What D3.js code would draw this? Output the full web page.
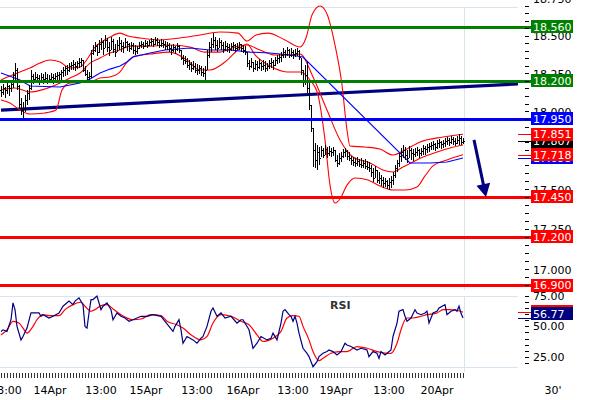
<!DOCTYPE html>
<html><head><meta charset="utf-8">
<script src="https://cdn.jsdelivr.net/npm/d3@7"></script>
<style>
body{margin:0;background:#fff}
svg{display:block}
text{font-family:"DejaVu Sans",Verdana,sans-serif;font-size:11px}
</style></head>
<body><svg id="c" width="590" height="400"></svg>
<script>
// ---- OHLC bars (30 minute bars, index 0..231) ----
const highs = [
18.165,18.179,18.159,18.185,18.172,18.205,18.258,18.317,18.284,18.172,
18.087,18.061,18.106,18.139,18.172,18.271,18.244,18.258,18.244,18.238,
18.251,18.244,18.258,18.244,18.238,18.251,18.244,18.251,18.258,18.258,
18.271,18.291,18.297,18.304,18.317,18.324,18.337,18.324,18.331,18.351,
18.351,18.337,18.297,18.271,18.258,18.404,18.437,18.457,18.444,18.471,
18.484,18.471,18.504,18.484,18.457,18.491,18.477,18.444,18.471,18.491,
18.471,18.457,18.484,18.464,18.451,18.457,18.451,18.437,18.430,18.457,
18.464,18.457,18.471,18.464,18.471,18.484,18.477,18.491,18.484,18.471,
18.477,18.471,18.464,18.457,18.451,18.437,18.444,18.430,18.451,18.437,
18.404,18.371,18.364,18.351,18.337,18.324,18.331,18.317,18.311,18.304,
18.297,18.284,18.297,18.404,18.457,18.484,18.517,18.491,18.471,18.484,
18.471,18.457,18.464,18.451,18.444,18.451,18.457,18.444,18.451,18.457,
18.444,18.437,18.430,18.390,18.337,18.351,18.324,18.337,18.331,18.344,
18.324,18.337,18.331,18.317,18.337,18.351,18.337,18.357,18.371,18.377,
18.390,18.417,18.404,18.424,18.410,18.417,18.404,18.410,18.417,18.404,
18.351,18.271,18.304,18.324,18.185,18.041,17.891,17.794,17.781,17.768,
17.775,17.762,17.781,17.768,17.775,17.762,17.768,17.749,17.717,17.730,
17.736,17.755,17.762,17.749,17.736,17.711,17.704,17.698,17.704,17.691,
17.698,17.685,17.691,17.679,17.672,17.653,17.634,17.647,17.621,17.608,
17.589,17.576,17.570,17.557,17.570,17.583,17.608,17.653,17.685,17.730,
17.762,17.781,17.768,17.749,17.775,17.762,17.755,17.762,17.768,17.755,
17.762,17.781,17.775,17.788,17.794,17.801,17.807,17.794,17.814,17.820,
17.807,17.814,17.826,17.833,17.826,17.839,17.833,17.826,17.839,17.852,
17.839,17.826];
const lows = [
18.093,18.106,18.087,18.113,18.100,18.126,18.152,18.205,18.139,18.021,
17.976,17.950,17.995,18.041,18.074,18.139,18.179,18.192,18.185,18.172,
18.185,18.179,18.192,18.179,18.185,18.192,18.179,18.192,18.198,18.205,
18.205,18.225,18.231,18.238,18.258,18.271,18.271,18.264,18.277,18.284,
18.291,18.258,18.231,18.205,18.192,18.218,18.371,18.390,18.364,18.384,
18.404,18.371,18.417,18.390,18.364,18.404,18.384,18.357,18.390,18.404,
18.390,18.384,18.417,18.397,18.390,18.404,18.377,18.371,18.377,18.410,
18.417,18.410,18.424,18.417,18.430,18.430,18.424,18.437,18.430,18.417,
18.424,18.417,18.404,18.404,18.390,18.371,18.390,18.377,18.397,18.384,
18.337,18.304,18.311,18.284,18.271,18.258,18.271,18.251,18.238,18.244,
18.231,18.225,18.205,18.271,18.351,18.390,18.417,18.404,18.390,18.417,
18.404,18.384,18.397,18.390,18.384,18.397,18.404,18.390,18.404,18.404,
18.390,18.384,18.371,18.291,18.271,18.284,18.258,18.271,18.264,18.277,
18.264,18.271,18.258,18.264,18.277,18.284,18.271,18.297,18.311,18.317,
18.324,18.351,18.351,18.364,18.351,18.357,18.344,18.357,18.364,18.337,
18.238,18.159,18.172,18.119,18.008,17.865,17.640,17.634,17.621,17.653,
17.704,17.698,17.717,17.698,17.711,17.704,17.711,17.672,17.640,17.653,
17.672,17.698,17.704,17.685,17.679,17.653,17.647,17.640,17.647,17.640,
17.634,17.634,17.627,17.621,17.608,17.576,17.544,17.570,17.538,17.532,
17.519,17.506,17.513,17.500,17.494,17.506,17.525,17.570,17.608,17.640,
17.672,17.698,17.685,17.666,17.698,17.685,17.679,17.704,17.711,17.698,
17.711,17.717,17.717,17.730,17.736,17.749,17.749,17.743,17.755,17.762,
17.755,17.762,17.768,17.781,17.775,17.788,17.781,17.775,17.788,17.781,
17.781,17.788];
const closes = [
18.126,18.152,18.139,18.165,18.152,18.179,18.238,18.271,18.165,18.048,
18.008,18.021,18.074,18.119,18.152,18.231,18.211,18.225,18.218,18.205,
18.225,18.211,18.218,18.205,18.211,18.225,18.218,18.231,18.238,18.244,
18.258,18.271,18.284,18.271,18.297,18.304,18.311,18.297,18.317,18.324,
18.337,18.271,18.244,18.225,18.231,18.384,18.404,18.430,18.390,18.444,
18.457,18.417,18.471,18.424,18.404,18.464,18.410,18.390,18.437,18.451,
18.430,18.424,18.457,18.444,18.417,18.437,18.404,18.397,18.417,18.437,
18.444,18.430,18.451,18.437,18.457,18.464,18.444,18.471,18.457,18.437,
18.451,18.444,18.430,18.437,18.417,18.404,18.424,18.410,18.430,18.404,
18.351,18.337,18.331,18.304,18.311,18.284,18.297,18.271,18.271,18.284,
18.258,18.251,18.271,18.371,18.424,18.444,18.471,18.437,18.417,18.457,
18.437,18.410,18.430,18.424,18.410,18.430,18.437,18.417,18.424,18.444,
18.417,18.404,18.390,18.317,18.297,18.324,18.284,18.311,18.291,18.317,
18.297,18.304,18.284,18.297,18.317,18.324,18.304,18.337,18.351,18.357,
18.371,18.390,18.377,18.404,18.371,18.390,18.377,18.384,18.397,18.357,
18.271,18.205,18.238,18.152,18.041,17.891,17.749,17.685,17.736,17.698,
17.749,17.717,17.755,17.730,17.743,17.736,17.749,17.685,17.666,17.698,
17.711,17.736,17.743,17.711,17.698,17.685,17.672,17.666,17.679,17.659,
17.653,17.666,17.647,17.640,17.634,17.608,17.570,17.621,17.557,17.570,
17.557,17.538,17.551,17.525,17.544,17.557,17.589,17.634,17.666,17.711,
17.736,17.749,17.717,17.698,17.749,17.730,17.723,17.736,17.749,17.730,
17.743,17.762,17.755,17.768,17.775,17.781,17.788,17.768,17.794,17.801,
17.788,17.794,17.807,17.814,17.801,17.820,17.807,17.794,17.814,17.826,
17.801,17.807];
const firstOpen = 18.139;

// ---- Bollinger bands (knots: bar index, price) ----
const upperIdx = [0,4.5,9.5,14.5,19.5,24.5,29.5,34.5,39.5,43.5,47,49.5,54.5,59.5,63.5,69.5,79.5,89.5,99.5,109.5,118.5,123,127.5,133.5,142,149.5,152.5,155.5,159.5,163,167,170.5,173,174.5,182,189.5,196,202,209.5,221,231];
const upperVal = [18.205,18.231,18.258,18.284,18.317,18.337,18.324,18.284,18.291,18.351,18.424,18.451,18.491,18.517,18.497,18.484,18.471,18.484,18.504,18.524,18.517,18.464,18.504,18.517,18.471,18.424,18.484,18.639,18.700,18.646,18.437,18.172,17.878,17.775,17.768,17.755,17.717,17.749,17.801,17.833,17.851];
const midIdx = [0,7,14.5,22,29.5,34.5,39.5,44.5,49.5,54.5,59.5,64.5,74.5,84.5,94.5,102,109.5,117,123,129.5,137,144.5,149.5,156,163,169.5,176,184.5,191,196,201,206,211,218,224.5,231];
const midVal = [18.139,18.152,18.126,18.146,18.185,18.218,18.251,18.317,18.351,18.384,18.404,18.430,18.430,18.437,18.424,18.390,18.390,18.424,18.437,18.404,18.371,18.371,18.377,18.225,18.008,17.814,17.704,17.666,17.621,17.608,17.640,17.672,17.704,17.736,17.762,17.781];
const lowIdx = [0,4.5,9.5,14.5,22,27.5,30.5,34.5,44.5,49.5,54.5,59.5,63,67,74.5,84.5,93,99.5,104.5,112,119.5,123,127,134.5,143,149.5,154.5,158.5,162,164.5,167,169.5,173,177,183.5,189.5,196,202,208,212,216,223,231];
const lowVal = [18.074,18.054,18.008,17.982,17.989,18.008,18.139,18.185,18.192,18.218,18.225,18.258,18.324,18.364,18.377,18.390,18.337,18.271,18.271,18.324,18.417,18.444,18.371,18.297,18.258,18.258,18.205,18.106,17.814,17.525,17.412,17.437,17.525,17.570,17.557,17.519,17.494,17.494,17.513,17.583,17.647,17.685,17.718];
// ---- blue moving average ----
const maIdx = [0,9.5,14.5,29.5,39.5,44.5,49.5,54.5,59.5,63,66,74.5,82,94.5,104.5,114.5,124.5,134.5,144.5,151,204.5,214.5,223,231];
const maVal = [18.251,18.205,18.165,18.159,18.185,18.211,18.251,18.277,18.297,18.324,18.357,18.384,18.404,18.417,18.404,18.404,18.390,18.384,18.371,18.357,17.666,17.666,17.672,17.698];

// ---- RSI ----
const rsiIdx = [0,1,3,5,6,7,8,10,11,13,15,16,19,20,21,24,26,29,31,34,36,37,39,41,42,43,44,45,46,48,50,51,53,55,56,58,60,62,64,66,70,73,76,80,82,84,86,87,89,90,91,93,96,98,100,101,103,105,106,108,110,112,115,118,120,121,124,126,128,130,133,135,136,138,140,141,142,144,145,146,147,148,149,151,153,154,156,158,159,161,163,164,166,168,170,172,173,175,178,180,183,184,186,188,189,190,192,193,195,196,198,199,201,202,203,205,207,208,210,212,213,214,216,218,219,222,223,225,227,228,229,230,231];
const rsiVal = [45.8,47.1,45.8,55.3,69.0,63.5,49.9,38.9,41.7,48.5,60.8,60.8,60.8,58.1,59.4,56.7,58.1,60.8,66.3,70.4,67.6,70.4,73.1,67.6,49.9,48.5,60.8,71.7,71.7,74.5,63.5,66.3,69.0,63.5,55.3,60.8,58.1,56.7,54.0,55.3,58.1,58.1,59.4,58.1,54.0,49.9,45.8,49.9,55.3,47.1,36.2,41.7,38.9,36.2,40.3,41.7,49.9,62.2,64.9,58.1,60.8,56.7,58.1,52.6,55.3,55.3,47.1,32.1,36.2,41.7,38.9,40.3,44.4,38.9,52.6,62.2,63.5,59.4,58.1,54.0,58.1,52.6,44.4,32.1,28.0,25.3,17.1,21.2,25.3,28.0,29.4,30.7,29.4,26.6,29.4,36.2,34.8,33.5,30.7,32.1,30.7,25.3,29.4,28.0,23.9,29.4,26.6,28.0,30.7,41.7,52.6,62.2,63.5,58.1,54.0,56.7,63.5,60.8,59.4,60.8,62.2,52.6,60.8,62.2,64.9,67.6,59.4,62.2,63.5,62.2,66.3,60.5,56.77];
const sigIdx = [0,3,6,9,11,13,16,18,21,24,29,32,36,40,42,45,47,50,53,56,60,63,66,70,75,80,83,88,91,95,100,103,106,110,115,120,124,128,131,136,140,143,146,149,151,154,156,159,161,165,169,173,178,183,188,193,195,198,200,202,203,206,210,213,218,221,224,228,231];
const sigVal = [43.0,47.1,54.0,52.6,48.5,44.4,49.9,55.3,59.4,58.6,58.6,63.5,67.6,69.5,66.3,62.2,63.5,66.8,67.6,64.1,59.4,56.7,55.3,55.9,59.4,58.6,54.0,51.2,48.5,43.0,38.9,41.7,52.6,59.4,58.1,54.0,51.2,43.0,37.6,40.3,45.8,56.7,58.6,58.1,49.9,38.9,29.4,22.0,23.9,28.0,29.4,29.4,33.5,32.1,29.4,28.0,28.0,36.2,47.1,55.3,56.7,56.7,58.1,59.4,60.8,63.5,63.5,63.0,61.4];

// ---- levels, trendline, annotation ----
const levelVals = [18.560, 18.200, 17.950, 17.450, 17.200, 16.900];
const levelColors = ["#008000","#008000","#0000ff","#ff0000","#ff0000","#ff0000"];
const trendIdx = [0, 258.5];
const trendVal = [18.008, 18.179];
const arrowIdx = [236.5, 242.5];
const arrowVal = [17.814, 17.450];

// ---- axes ----
const priceLabels = [18.75, 18.5, 18.25, 18.0, 17.75, 17.5, 17.25, 17.0];
const rsiLabels = [75, 50, 25];
const timeLabels = ["13:00","14Apr","13:00","15Apr","13:00","16Apr","13:00","19Apr","13:00","20Apr"];
const timeLabelIdx = [2.5, 24.5, 50, 72.5, 98, 121, 146, 167.5, 194, 218];

const svg = d3.select("#c");
const x = d3.scaleLinear().domain([0, 258.5]).range([1, 518]);
const y = d3.scaleLog().domain([18.56, 16.9]).range([26.7, 285.3]);
const yr = d3.scaleLinear().domain([75, 25]).range([295.5, 357]);
const grid = "#d9e5ee";

const defs = svg.append("defs");
defs.append("clipPath").attr("id","cm").append("rect").attr("x",0).attr("y",0).attr("width",518).attr("height",292);
defs.append("clipPath").attr("id","cr").append("rect").attr("x",0).attr("y",294).attr("width",518).attr("height",76);

// grid lines
const g0 = svg.append("g").attr("stroke", grid).attr("shape-rendering","crispEdges");
g0.append("line").attr("x1",0).attr("x2",518).attr("y1",7.5).attr("y2",7.5);
g0.append("line").attr("x1",0).attr("x2",518).attr("y1",296.5).attr("y2",296.5);
g0.append("line").attr("x1",0).attr("x2",518).attr("y1",367.5).attr("y2",367.5);
g0.append("line").attr("x1",x(231.5)+0.5).attr("x2",x(231.5)+0.5).attr("y1",7).attr("y2",290);
g0.append("line").attr("x1",x(231.5)+0.5).attr("x2",x(231.5)+0.5).attr("y1",296).attr("y2",372);

const main = svg.append("g").attr("clip-path","url(#cm)");

// trendline
main.append("line")
  .attr("x1", x(trendIdx[0])).attr("y1", y(trendVal[0]))
  .attr("x2", x(trendIdx[1])).attr("y2", y(trendVal[1]))
  .attr("stroke","#000080").attr("stroke-width",3.2);

// horizontal levels
levelVals.forEach((v,k)=>{
  const yy = Math.round(y(v));
  svg.append("line").attr("x1",0).attr("x2",531).attr("y1",yy).attr("y2",yy)
    .attr("stroke",levelColors[k]).attr("stroke-width",3).attr("shape-rendering","crispEdges");
});

// bands
const pts = (idx, val) => idx.map((d,k)=>[d, val[k]]);
const bandLine = d3.line().x(d=>x(d[0])).y(d=>y(d[1])).curve(d3.curveMonotoneX);
[[upperIdx,upperVal],[midIdx,midVal],[lowIdx,lowVal]].forEach(([a,b])=>{
  main.append("path").attr("d", bandLine(pts(a,b))).attr("fill","none").attr("stroke","#ff0000").attr("stroke-width",1.1);
});
// moving average
const maLine = d3.line().x(d=>x(d[0])).y(d=>y(d[1]));
main.append("path").attr("d", maLine(pts(maIdx,maVal))).attr("fill","none").attr("stroke","#0000ff").attr("stroke-width",1.1);

// OHLC bars
let dPath = "";
closes.forEach((c,i)=>{
  const o = i===0 ? firstOpen : closes[i-1];
  const X = Math.round(x(i));
  const yh = Math.round(y(highs[i])), yl = Math.max(Math.round(y(lows[i])), yh+1);
  const yo = Math.round(y(o)), yc = Math.round(y(c));
  dPath += `M${X},${yh}h1V${yl}h-1Z`;
  dPath += `M${X-1},${yo}h1v1h-1Z`;
  dPath += `M${X+1},${yc}h1v1h-1Z`;
});
main.append("path").attr("d", dPath).attr("fill","#000").attr("shape-rendering","crispEdges");

// arrow
{
  const x1 = x(arrowIdx[0]), y1 = y(arrowVal[0]), x2 = x(arrowIdx[1]), y2 = y(arrowVal[1]);
  const dx = x2-x1, dy = y2-y1, L = Math.hypot(dx,dy), ux = dx/L, uy = dy/L;
  const bx = x2-13*ux, by = y2-13*uy;
  svg.append("line").attr("x1",x1).attr("y1",y1).attr("x2",bx+2*ux).attr("y2",by+2*uy)
    .attr("stroke","#000080").attr("stroke-width",3);
  svg.append("path").attr("d",`M${x2},${y2}L${bx-7*uy},${by+7*ux}L${bx+7*uy},${by-7*ux}Z`).attr("fill","#000080");
}

// RSI panel
const rsiG = svg.append("g").attr("clip-path","url(#cr)");
rsiG.append("path").attr("d", d3.line().x(d=>x(d[0])).y(d=>yr(d[1])).curve(d3.curveMonotoneX)(pts(sigIdx,sigVal))).attr("fill","none").attr("stroke","#ff0000").attr("stroke-width",1.2);
rsiG.append("path").attr("d", d3.line().x(d=>x(d[0])).y(d=>yr(d[1]))(pts(rsiIdx,rsiVal))).attr("fill","none").attr("stroke","#000080").attr("stroke-width",1.2);
svg.append("text").attr("x",330).attr("y",309).attr("font-weight","bold").attr("fill","#333").text("RSI");

// price axis ticks & labels
const axG = svg.append("g").attr("shape-rendering","crispEdges");
d3.range(0, 39).map(k => 16.85 + k*0.05).forEach(v=>{
  const yy = Math.round(y(v));
  if (yy < 0 || yy > 291) return;
  axG.append("line").attr("x1",525).attr("x2",529).attr("y1",yy+0.5).attr("y2",yy+0.5).attr("stroke","#000");
});
priceLabels.forEach(v=>{
  svg.append("text").attr("x",533).attr("y",y(v)+1).attr("dominant-baseline","central").attr("fill","#000").text(d3.format(".3f")(v));
});
d3.range(0, 12).map(k => 20 + k*5).forEach(v=>{
  const yy = Math.round(yr(v));
  axG.append("line").attr("x1",525).attr("x2",529).attr("y1",yy+0.5).attr("y2",yy+0.5).attr("stroke","#000");
});
rsiLabels.forEach(v=>{
  svg.append("text").attr("x",533).attr("y",yr(v)+0.5).attr("dominant-baseline","central").attr("fill","#000").text(d3.format(".2f")(v));
});

// time axis
d3.range(0, 232, 1.5).forEach(i=>{
  const X = Math.round(x(i)) + 0.5;
  axG.append("line").attr("x1",X).attr("x2",X).attr("y1",373).attr("y2",378).attr("stroke","#333");
});
timeLabels.forEach((t,k)=>{
  svg.append("text").attr("x",x(timeLabelIdx[k])).attr("y",394).attr("text-anchor","middle").attr("fill","#000").text(t);
});
svg.append("text").attr("x",553).attr("y",394).attr("text-anchor","middle").attr("fill","#000").text("30'");

// value boxes
function box(yy, color, txt, marker, shift){
  const s = shift || 0;
  if (marker) svg.append("line").attr("x1",518).attr("x2",531).attr("y1",Math.round(yy)+0.5).attr("y2",Math.round(yy)+0.5)
    .attr("stroke",color).attr("shape-rendering","crispEdges");
  svg.append("rect").attr("x",531).attr("y",Math.round(yy-6.5+s)).attr("width",42).attr("height",13).attr("fill",color);
  svg.append("text").attr("x",533).attr("y",yy+0.5+s).attr("dominant-baseline","central").attr("fill","#fff").text(txt);
}
const f3 = d3.format(".3f");
box(y(levelVals[0]), levelColors[0], f3(levelVals[0]), false);
box(y(levelVals[1]), levelColors[1], f3(levelVals[1]), false);
box(y(levelVals[2]), levelColors[2], f3(levelVals[2]), false);
box(y(maVal[maVal.length-1]), "#0000ff", f3(maVal[maVal.length-1]), true);
box(y(closes[closes.length-1]), "#000000", f3(closes[closes.length-1]), true);
box(y(upperVal[upperVal.length-1]), "#ff0000", f3(upperVal[upperVal.length-1]), true);
box(y(lowVal[lowVal.length-1]), "#ff0000", f3(lowVal[lowVal.length-1]), true);
box(y(levelVals[3]), levelColors[3], f3(levelVals[3]), false);
box(y(levelVals[4]), levelColors[4], f3(levelVals[4]), false);
box(y(levelVals[5]), levelColors[5], f3(levelVals[5]), false);
box(yr(sigVal[sigVal.length-1]), "#ff0000", d3.format(".2f")(sigVal[sigVal.length-1]), true, -1);
box(yr(rsiVal[rsiVal.length-1]), "#000080", d3.format(".2f")(rsiVal[rsiVal.length-1]), true, -4);
</script>
</body></html>
